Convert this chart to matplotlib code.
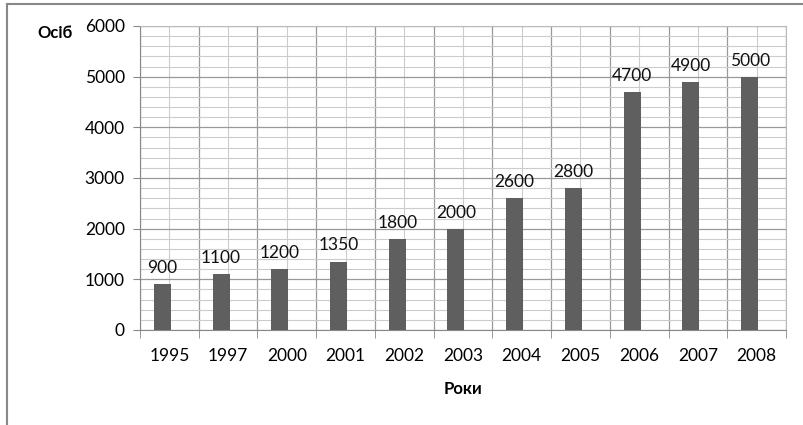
import matplotlib.pyplot as plt
import numpy as np
from matplotlib.ticker import MultipleLocator

# дані
years = ["1995", "1997", "2000", "2001", "2002", "2003", "2004", "2005", "2006", "2007", "2008"]
people = [900, 1100, 1200, 1350, 1800, 2000, 2600, 2800, 4700, 4900, 5000]

plt.rcParams['font.family'] = ['Lato', 'DejaVu Sans']
fs = 12.5

fig = plt.figure(figsize=(8.04, 4.25), dpi=100)
ax = fig.add_axes([140/804, 1 - 330/425, 646/804, 304/425])

x = np.arange(len(years))
xb = x - 0.12  # стовпчики трохи зсунуті ліворуч, як в Excel
bars = ax.bar(xb, people, width=0.29, color="#5f5f5f", zorder=3)

for xi, v in zip(xb, people):
    ax.text(xi, v + 160, str(v), ha="center", va="bottom", fontsize=fs, color="#111111")

ax.set_xlim(-0.5, len(years) - 0.5)
ax.set_ylim(0, 6000)
ax.set_xticks(x)
ax.set_xticklabels(years, fontsize=fs)
ax.set_xticks(np.arange(len(years) + 1) - 0.5, minor=True)
ax.yaxis.set_major_locator(MultipleLocator(1000))
ax.yaxis.set_minor_locator(MultipleLocator(200))
ax.tick_params(axis="y", which="major", labelsize=fs, length=5, color="#888888", pad=6)
ax.tick_params(axis="y", which="minor", length=0)
ax.tick_params(axis="x", which="major", length=0, pad=13)
ax.tick_params(axis="x", which="minor", length=6, color="#888888")

# сітка
ax.grid(True, axis="y", which="major", color="#999999", linewidth=0.9, zorder=0)
ax.grid(True, axis="y", which="minor", color="#cccccc", linewidth=0.8, zorder=0)
ax.grid(True, axis="x", which="minor", color="#999999", linewidth=0.9, zorder=0)
ax.grid(True, axis="x", which="major", color="#cccccc", linewidth=0.8, zorder=0)

for s in ["top", "right"]:
    ax.spines[s].set_color("#bbbbbb")
for s in ["left", "bottom"]:
    ax.spines[s].set_color("#888888")

fig.text(37/804, 1 - 33/425, "Осіб", fontsize=12, fontweight="bold", va="center", ha="left")
fig.text(463/804, 1 - 389/425, "Роки", fontsize=12, fontweight="bold", va="center", ha="center")

# рамка
fig.add_artist(plt.Line2D([7/804, 1], [1 - 4/425, 1 - 4/425], color="#888888", linewidth=1.5))
fig.add_artist(plt.Line2D([7/804, 7/804], [0, 1 - 4/425], color="#888888", linewidth=1.5))

fig.savefig("out.png", dpi=100)
